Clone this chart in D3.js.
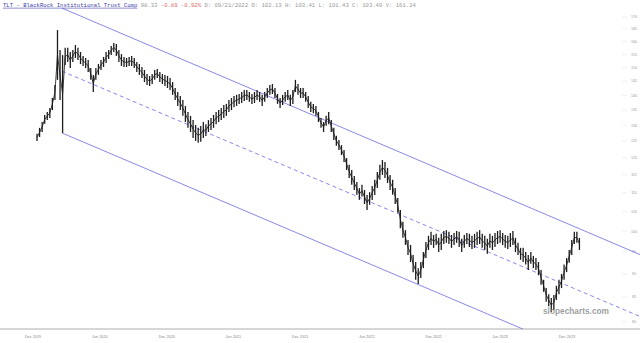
<!DOCTYPE html>
<html><head><meta charset="utf-8">
<script src="https://cdn.jsdelivr.net/npm/d3@7"></script>
<style>html,body{margin:0;padding:0;background:#fff;}svg{display:block;}</style>
</head><body>
<svg id="c" width="640" height="343"></svg>
<script>
// ---- data ----
const firstWeek = "2019-12-12";
const highs = [127.3,129.2,131.1,133.4,134.4,135.7,139.1,143.7,164.6,156.7,
154.7,157.5,157.5,155.9,156.7,158.6,157.5,155.9,154.4,153.6,
152.8,149.8,147.3,149.8,151.3,152.8,154.0,155.9,156.7,158.2,
159.4,159.0,156.7,155.1,154.0,153.6,154.0,154.4,153.6,152.1,
151.3,150.2,149.1,147.6,146.9,147.6,149.1,149.5,148.4,147.6,
147.3,146.9,146.2,144.7,142.6,141.2,139.8,138.4,136.4,134.4,
133.1,131.7,130.1,129.2,129.8,131.1,130.4,131.7,132.4,133.4,
134.4,135.0,135.7,136.7,137.1,138.4,139.1,139.8,140.2,140.5,
141.2,141.9,141.9,141.2,140.5,141.2,141.9,141.2,140.2,141.2,
142.6,143.7,144.0,142.6,140.5,139.1,140.2,141.2,141.9,140.2,
141.9,145.5,144.0,142.6,142.6,141.2,139.8,137.8,137.1,136.4,
134.4,132.4,131.1,133.1,134.4,131.7,129.2,126.7,125.4,123.8,
122.3,119.9,117.9,116.4,114.7,113.0,111.3,112.2,110.8,109.4,
110.2,111.9,113.6,115.8,117.9,119.3,118.7,117.0,115.0,113.6,
111.3,108.6,105.4,102.4,100.3,97.9,96.7,94.3,92.7,91.3,
92.7,95.0,97.4,98.9,99.9,99.1,99.4,98.4,99.4,100.1,
100.3,99.9,99.1,99.6,100.1,99.9,98.2,99.1,99.6,99.4,
98.9,99.4,99.9,100.3,99.4,98.9,98.2,99.4,98.9,99.6,
100.1,100.3,99.6,99.1,98.9,99.6,100.1,98.4,97.2,96.0,
96.0,95.0,94.3,95.0,94.1,93.6,92.7,90.9,88.7,86.9,
85.6,84.8,85.4,87.4,88.7,90.0,92.1,93.6,95.5,97.9,
99.9,99.9,98.4];
const lows = [125.1,126.3,127.9,130.5,131.7,132.4,135.0,138.4,145.5,138.4,
127.6,151.0,152.1,149.8,152.1,153.6,152.8,151.3,150.6,149.8,
148.4,145.5,141.2,145.5,147.3,149.1,150.2,151.7,153.2,154.7,
155.9,154.4,152.1,150.6,150.2,150.2,150.6,150.6,149.8,148.4,
147.3,146.2,144.7,143.7,143.3,144.0,145.5,146.2,144.7,144.0,
143.3,142.6,141.9,140.2,138.4,136.4,135.0,133.1,131.1,129.2,
127.9,126.0,125.1,124.5,124.8,126.0,126.6,127.9,128.5,129.2,
130.4,131.1,131.7,132.4,133.1,134.4,135.0,136.0,136.4,137.1,
137.4,138.1,138.4,137.8,137.1,137.4,138.4,137.8,136.4,137.8,
139.1,140.2,140.5,139.1,137.1,135.7,136.7,137.8,138.4,136.4,
137.1,141.2,140.2,139.1,139.1,137.8,135.7,134.4,134.0,133.1,
131.1,129.2,127.9,129.9,130.4,127.9,125.4,123.6,122.3,120.8,
118.7,116.4,114.1,112.2,110.8,109.5,108.1,109.0,107.0,105.4,
106.8,108.1,109.4,111.3,113.6,115.0,114.1,112.7,110.8,109.5,
107.0,104.7,100.8,98.4,96.7,94.3,92.7,90.4,88.7,87.8,
89.1,91.3,93.6,95.5,96.7,96.0,96.7,95.0,95.5,96.9,
97.2,96.9,96.0,96.7,97.2,96.2,95.0,96.0,96.9,96.2,
95.7,96.0,96.7,96.9,96.0,95.5,94.6,96.0,95.5,96.2,
96.9,97.2,96.7,96.0,95.7,96.2,96.7,95.0,94.3,93.2,
92.7,92.1,90.9,92.3,91.3,90.9,89.7,87.6,86.1,84.0,
83.1,81.9,82.3,84.4,85.6,86.9,88.7,90.4,92.5,94.3,
96.9,97.2,95.5];

const yTicks = [170,165,160,155,150,145,140,135,130,125,120,115,110,105,100,95,90,85,80];
const xTickDates = ["2019-12-01","2020-06-01","2020-12-01","2021-06-01","2021-12-01","2022-06-01","2022-12-01","2023-06-01","2023-12-01"];
const xTickLabels = ["Dec 2019","Jun 2020","Dec 2020","Jun 2021","Dec 2021","Jun 2022","Dec 2022","Jun 2023","Dec 2023"];

// regression channel: [startDate, endDate], prices at both ends
const channelDates = ["2020-02-18","2024-06-18"];
const channelUpper = [173.8, 94.4];
const channelMid = [148.7, 81.0];
const channelLower = [127.6, 69.4];

const header = {
  title: "TLT - BlackRock Institutional Trust Comp",
  last: "98.33",
  change: "-0.89 -0.92%",
  rest: "D: 09/21/2022 O: 102.13 H: 103.41 L: 101.43 C: 103.40 V: 161.24"
};

// ---- drawing ----
const parse = d3.utcParse("%Y-%m-%d");
const svg = d3.select("#c");
const W = 640, H = 343, axisY = 329;

const x = d3.scaleUtc().domain([parse("2019-12-01"), parse("2023-12-01")]).range([33, 567]);
const y = d3.scaleLog().domain([80, 170]).range([321.5, 17]);

const start = parse(firstWeek);
const bars = highs.map((h, i) => ({date: d3.utcDay.offset(start, 7 * i), high: h, low: lows[i]}));

svg.append("defs").append("clipPath").attr("id", "plot")
  .append("rect").attr("x", 0).attr("y", 0).attr("width", W).attr("height", axisY);

// y labels with faint ticks
const yg = svg.append("g");
yg.selectAll("line").data(yTicks).join("line")
  .attr("x1", 622).attr("x2", 627).attr("y1", d => y(d)).attr("y2", d => y(d))
  .attr("stroke", "#e8e8e8").attr("stroke-width", 0.6);
yg.selectAll("text").data(yTicks).join("text")
  .attr("x", 634).attr("y", d => y(d) + 1.2)
  .attr("text-anchor", "middle")
  .attr("font-family", "Liberation Sans, Arial, sans-serif")
  .attr("font-size", 3.6).attr("fill", "#999")
  .text(d => d);

// channel lines
const cg = svg.append("g").attr("clip-path", "url(#plot)");
const cd = channelDates.map(parse);
function chan(vals, dash) {
  cg.append("line")
    .attr("x1", x(cd[0])).attr("y1", y(vals[0]))
    .attr("x2", x(cd[1])).attr("y2", y(vals[1]))
    .attr("stroke", "#7b7be6").attr("stroke-width", 0.9)
    .attr("stroke-dasharray", dash ? "4,3" : null);
}
chan(channelUpper, false);
chan(channelMid, true);
chan(channelLower, false);

// price: thin trace through bar midpoints plus the high-low bars
const pg = svg.append("g").attr("clip-path", "url(#plot)");
pg.append("path")
  .attr("d", d3.line().x(d => x(d.date)).y(d => (y(d.high) + y(d.low)) / 2)(bars))
  .attr("fill", "none").attr("stroke", "#2a2a2a").attr("stroke-width", 0.9);
pg.selectAll("line").data(bars).join("line")
  .attr("x1", d => x(d.date)).attr("x2", d => x(d.date))
  .attr("y1", d => y(d.high)).attr("y2", d => y(d.low))
  .attr("stroke", "#1c1c1c").attr("stroke-width", 1.3);

// x axis line and labels
svg.append("line").attr("x1", 0).attr("x2", W).attr("y1", axisY).attr("y2", axisY)
  .attr("stroke", "#999").attr("stroke-width", 0.8);
svg.append("g").selectAll("text").data(xTickDates).join("text")
  .attr("x", d => x(parse(d))).attr("y", 337.5)
  .attr("text-anchor", "middle")
  .attr("font-family", "Liberation Sans, Arial, sans-serif")
  .attr("font-size", 3.8).attr("fill", "#888")
  .text((d, i) => xTickLabels[i]);

// watermark
svg.append("text").attr("x", 543).attr("y", 314)
  .attr("font-family", "Liberation Sans, Arial, sans-serif")
  .attr("font-weight", "bold").attr("font-size", 8.3)
  .attr("fill", "#8a8a8a").attr("fill-opacity", 0.85)
  .text("slopecharts.com");

// header
const ht = svg.append("text").attr("x", 3).attr("y", 6.8)
  .attr("font-family", "Liberation Mono, DejaVu Sans Mono, monospace")
  .attr("font-size", 5.6).style("white-space", "pre");
ht.append("tspan").attr("fill", "#3a3aa8").attr("text-decoration", "underline").text(header.title);
ht.append("tspan").attr("fill", "#999").text(" " + header.last + " ");
ht.append("tspan").attr("fill", "#e06a6a").text(header.change + " ");
ht.append("tspan").attr("fill", "#999").text(header.rest);
</script>
</body></html>
